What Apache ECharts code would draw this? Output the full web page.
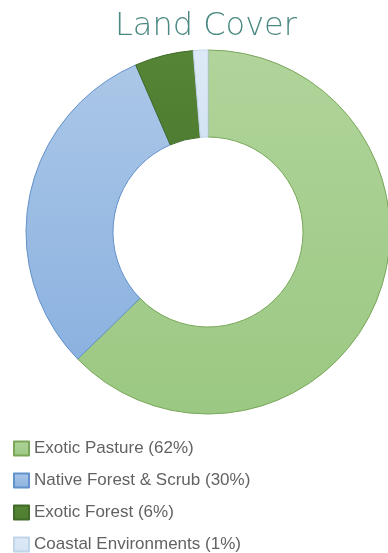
<!DOCTYPE html>
<html>
<head>
<meta charset="utf-8">
<script src="https://cdn.jsdelivr.net/npm/echarts@6/dist/echarts.min.js"></script>
<style>
  html, body { margin: 0; padding: 0; background: #fff; }
  #chart { width: 388px; height: 553px; }
</style>
</head>
<body>
<div id="chart"></div>
<script>
// land cover shares
const categories = ['Exotic Pasture', 'Native Forest & Scrub', 'Exotic Forest', 'Coastal Environments']
const shares = [62.7, 30.8, 5.2, 1.3]
const legendPct = [62, 30, 6, 1]

const fills = [
  ['#b0d49b', '#9bc882'],
  ['#abc7e7', '#8bb2e0'],
  ['#578536', '#4f7d31'],
  ['#dde9f6', '#d4e3f3'],
]
const borders = ['#79a659', '#6391cb', '#3f6a27', '#c0d4ea']

const grad = (c) => new echarts.graphic.LinearGradient(0, 0, 0, 1, [
  { offset: 0, color: c[0] },
  { offset: 1, color: c[1] },
])

const chart = echarts.init(document.getElementById('chart'))

chart.setOption({
  animation: false,
  title: {
    text: 'Land Cover',
    left: 110,
    top: 6,
    textStyle: {
      fontFamily: 'DejaVu Sans',
      fontWeight: 200,
      fontSize: 32,
      color: '#4a8983',
    },
  },
  legend: {
    orient: 'vertical',
    left: 13,
    top: 440,
    height: 113,
    padding: 0,
    itemWidth: 15,
    itemHeight: 14,
    itemGap: 15,
    icon: 'rect',
    formatter: (name) => name + ' (' + legendPct[categories.indexOf(name)] + '%)',
    textStyle: {
      fontFamily: 'Liberation Sans',
      fontSize: 17,
      color: '#626262',
    },
  },
  series: [
    {
      type: 'pie',
      center: [208, 232],
      radius: [95, 182],
      startAngle: 90,
      clockwise: true,
      label: { show: false },
      labelLine: { show: false },
      emphasis: { disabled: true },
      data: categories.map((name, i) => ({
        name,
        value: shares[i],
        itemStyle: {
          color: grad(fills[i]),
          borderColor: borders[i],
          borderWidth: 1,
        },
      })),
    },
  ],
})
</script>
</body>
</html>
